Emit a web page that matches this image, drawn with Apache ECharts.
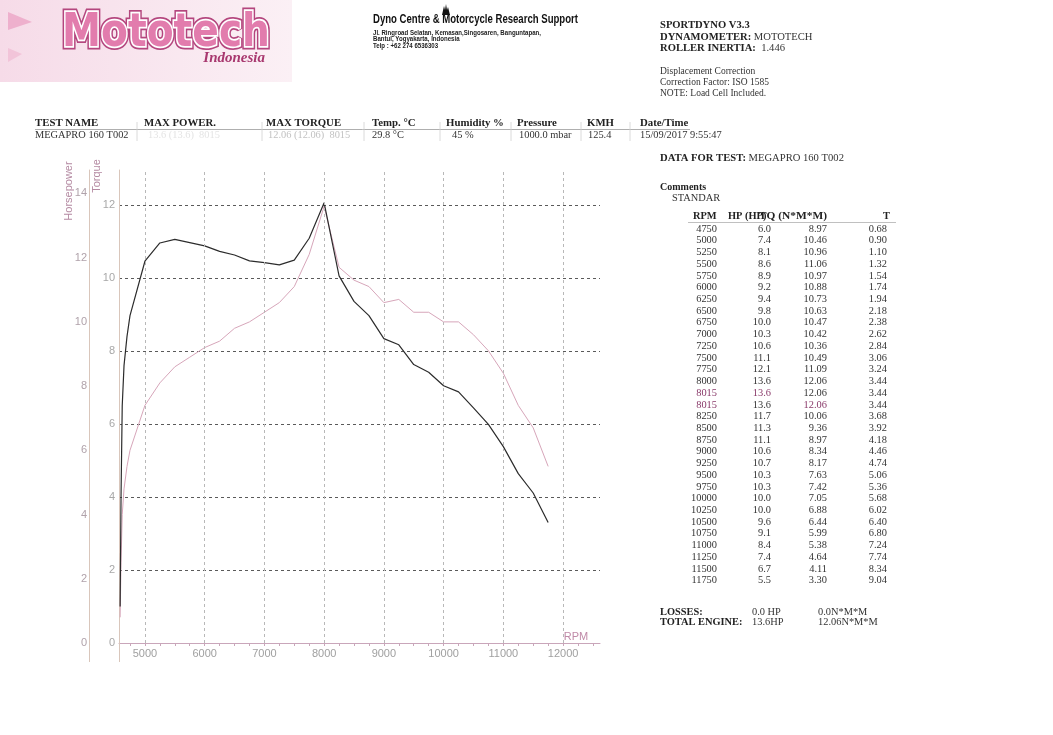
<!DOCTYPE html>
<html><head><meta charset="utf-8">
<script src="https://cdn.jsdelivr.net/npm/echarts@6/dist/echarts.min.js"></script>
<style>html,body{margin:0;padding:0;background:#fff}#c{width:1053px;height:735px}</style>
</head><body><div id="c"></div>
<script>
// ---------- DATA ----------
const curveRpm = [4585,4600,4620,4650,4700,4750,5000,5250,5500,5750,6000,6250,6500,6750,7000,7250,7500,7750,8000,8015,8250,8500,8750,9000,9250,9500,9750,10000,10250,10500,10750,11000,11250,11500,11750];
const torqueCurve = [1.0,4.0,6.5,7.6,8.4,8.97,10.46,10.96,11.06,10.97,10.88,10.73,10.63,10.47,10.42,10.36,10.49,11.09,12.06,12.06,10.06,9.36,8.97,8.34,8.17,7.63,7.42,7.05,6.88,6.44,5.99,5.38,4.64,4.11,3.30];
const powerCurve  = [0.8,2.5,4.0,4.8,5.5,6.0,7.4,8.1,8.6,8.9,9.2,9.4,9.8,10.0,10.3,10.6,11.1,12.1,13.6,13.6,11.7,11.3,11.1,10.6,10.7,10.3,10.3,10.0,10.0,9.6,9.1,8.4,7.4,6.7,5.5];
const rpmTicks = [5000,6000,7000,8000,9000,10000,11000,12000];
const rpmMinorTicks = [4750,5000,5250,5500,5750,6000,6250,6500,6750,7000,7250,7500,7750,8000,8250,8500,8750,9000,9250,9500,9750,10000,10250,10500,10750,11000,11250,11500,11750,12000,12250,12500];

const tableRpm = [4750,5000,5250,5500,5750,6000,6250,6500,6750,7000,7250,7500,7750,8000,8015,8015,8250,8500,8750,9000,9250,9500,9750,10000,10250,10500,10750,11000,11250,11500,11750];
const tableHp  = [6.0,7.4,8.1,8.6,8.9,9.2,9.4,9.8,10.0,10.3,10.6,11.1,12.1,13.6,13.6,13.6,11.7,11.3,11.1,10.6,10.7,10.3,10.3,10.0,10.0,9.6,9.1,8.4,7.4,6.7,5.5];
const tableTq  = [8.97,10.46,10.96,11.06,10.97,10.88,10.73,10.63,10.47,10.42,10.36,10.49,11.09,12.06,12.06,12.06,10.06,9.36,8.97,8.34,8.17,7.63,7.42,7.05,6.88,6.44,5.99,5.38,4.64,4.11,3.30];
const tableT   = [0.68,0.90,1.10,1.32,1.54,1.74,1.94,2.18,2.38,2.62,2.84,3.06,3.24,3.44,3.44,3.44,3.68,3.92,4.18,4.46,4.74,5.06,5.36,5.68,6.02,6.40,6.80,7.24,7.74,8.34,9.04];

const headerCols = ['TEST NAME','MAX POWER.','MAX TORQUE','Temp. °C','Humidity %','Pressure','KMH','Date/Time'];
const headerVals = ['MEGAPRO 160 T002','13.6 (13.6)  8015','12.06 (12.06)  8015','29.8 °C','45 %','1000.0 mbar','125.4','15/09/2017 9:55:47'];

// ---------- HELPERS ----------
const SERIF = '"Liberation Serif","Times New Roman",serif';
const SANS = '"Liberation Sans",Arial,sans-serif';
const mctx = document.createElement('canvas').getContext('2d');
function measure(t, f){ mctx.font = f; return mctx.measureText(t).width; }
function T(x, y, text, font, fill, align, extra){
  const el = {type:'text', x:x, y:y, silent:true, z:10,
    style:{text:text, font:font, fill:fill||'#222', textAlign:align||'left', textVerticalAlign:'middle'}};
  if (extra) Object.assign(el, extra);
  return el;
}
function L(x1,y1,x2,y2,color,w,dash){
  return {type:'line', silent:true, z:5, shape:{x1,y1,x2,y2}, style:{stroke:color, lineWidth:w||1, lineDash:dash||null}};
}

const g = [];
// logo band
g.push({type:'rect', silent:true, z:1, shape:{x:0,y:0,width:292,height:82},
  style:{fill:new echarts.graphic.LinearGradient(0,0,1,0,[{offset:0,color:'#f6dbe8'},{offset:1,color:'#fbf0f5'}])}});
g.push({type:'polygon', silent:true, z:2, shape:{points:[[8,12],[32,22],[8,30]]}, style:{fill:'#eeb0cd'}});
g.push({type:'polygon', silent:true, z:2, shape:{points:[[8,48],[22,54],[8,62]]}, style:{fill:'#f2c4d9'}});
const logoFont = 'bold 46px "DejaVu Sans"';
const logoSx = 208 / measure('Mototech', logoFont);
[['#b4467e',7],['#ffffff',3.5]].forEach(function(s){
  g.push({type:'text', silent:true, z:3, x:62, y:34, scaleX:logoSx,
    style:{text:'Mototech', font:logoFont, fill:s[0], stroke:s[0], lineWidth:s[1], textAlign:'left', textVerticalAlign:'middle'}});
});
g.push({type:'text', silent:true, z:4, x:62, y:34, scaleX:logoSx,
  style:{text:'Mototech', font:logoFont, fill:'#e27cad', textAlign:'left', textVerticalAlign:'middle'}});
g.push(T(265, 58, 'Indonesia', 'italic bold 15px ' + SERIF, '#a8386f', 'right'));

// center header
const dynoFont = 'bold 12px "Liberation Sans Narrow","Liberation Sans",sans-serif';
const dynoTxt = 'Dyno Centre & Motorcycle Research Support';
g.push(T(373, 20, dynoTxt, dynoFont, '#111', 'left', {scaleX: 205 / measure(dynoTxt, dynoFont)}));
g.push({type:'polygon', silent:true, z:6, shape:{points:[[442,15],[444,6],[445,10],[446,4],[447,10],[448,7],[450,15]]}, style:{fill:'#111'}});
const addrFont = 'bold 6.4px ' + SANS;
const addr = ['Jl. Ringroad Selatan, Kemasan,Singosaren, Banguntapan,','Bantul, Yogyakarta, Indonesia','Telp : +62 274 6536303'];
const addrSx = 168 / measure(addr[0], addrFont);
addr.forEach(function(a,i){ g.push(T(373, 33 + i*6.6, a, addrFont, '#222', 'left', {scaleX: addrSx})); });

// right header
function R(x,y,text,size){ const s = size||10.6; return {type:'text', x:x, y:y, silent:true, z:10,
  style:{text:text, font:s+'px ' + SERIF, fill:'#333', textVerticalAlign:'middle',
    rich:{b:{fontWeight:'bold', fontFamily:'"Liberation Serif"', fontSize:s, fill:'#222'}, n:{fontFamily:'"Liberation Serif"', fontSize:s, fill:'#333'}}}}; }
g.push(R(660, 25, '{b|SPORTDYNO V3.3}'));
g.push(R(660, 37, '{b|DYNAMOMETER:} {n|MOTOTECH}'));
g.push(R(660, 48, '{b|ROLLER INERTIA:}  {n|1.446}'));
g.push(T(660, 71, 'Displacement Correction', '9.5px ' + SERIF, '#333'));
g.push(T(660, 82, 'Correction Factor: ISO 1585', '9.5px ' + SERIF, '#333'));
g.push(T(660, 93, 'NOTE: Load Cell Included.', '9.5px ' + SERIF, '#333'));

// test row
const colX = [35,144,266,372,446,517,587,640];
const valX = [35,148,268,372,452,519,588,640];
const valColors = ['#333','#e4e4e4','#c2c2c2','#333','#333','#333','#333','#333'];
headerCols.forEach(function(h,i){ g.push(T(colX[i], 123, h, 'bold 10.8px ' + SERIF, '#222')); });
headerVals.forEach(function(v,i){ g.push(T(valX[i], 135, v, '10.4px ' + SERIF, valColors[i])); });
g.push(L(35,129.5,690,129.5,'#9a9a9a',0.8));
[137,262,364,440,511,581,630].forEach(function(x){ g.push(L(x,122,x,141,'#d0d0d0',0.8)); });

// data panel
g.push(R(660, 158, '{b|DATA FOR TEST:} {n|MEGAPRO 160 T002}'));
g.push(T(660, 187, 'Comments', 'bold 10px ' + SERIF, '#222'));
g.push(T(672, 198, 'STANDAR', '10.4px ' + SERIF, '#333'));
g.push(T(693, 216, 'RPM', 'bold 10.4px ' + SERIF, '#222'));
g.push(T(728, 216, 'HP (HP)', 'bold 10.4px ' + SERIF, '#222'));
const tqFont = 'bold 10.4px ' + SERIF;
g.push(T(759, 216, 'TQ (N*M*M)', tqFont, '#222', 'left', {scaleX: 68 / measure('TQ (N*M*M)', tqFont)}));
g.push(T(890, 216, 'T', 'bold 10.4px ' + SERIF, '#222', 'right'));
g.push(L(688,222.5,896,222.5,'#b0b0b0',0.8));
const rowH = 11.72;
tableRpm.forEach(function(r,i){
  const y = 229 + i*rowH;
  const f = '10.4px ' + SERIF;
  g.push(T(717, y, String(r), f, (i===14||i===15)?'#8a3a6a':'#333', 'right'));
  g.push(T(771, y, tableHp[i].toFixed(1), f, i===14?'#8a3a6a':'#333', 'right'));
  g.push(T(827, y, tableTq[i].toFixed(2), f, i===15?'#8a3a6a':'#333', 'right'));
  g.push(T(887, y, tableT[i].toFixed(2), f, '#333', 'right'));
});
g.push(T(660, 612, 'LOSSES:', 'bold 10.4px ' + SERIF, '#222'));
g.push(T(752, 612, '0.0 HP', '10.4px ' + SERIF, '#333'));
g.push(T(818, 612, '0.0N*M*M', '10.4px ' + SERIF, '#333'));
g.push(T(660, 622, 'TOTAL ENGINE:', 'bold 10.4px ' + SERIF, '#222'));
g.push(T(752, 622, '13.6HP', '10.4px ' + SERIF, '#333'));
g.push(T(818, 622, '12.06N*M*M', '10.4px ' + SERIF, '#333'));

// chart axis names & extras
g.push(T(69, 191, 'Horsepower', '11px ' + SANS, '#b48aa2', 'center', {rotation: Math.PI/2}));
g.push(T(97, 176, 'Torque', '11px ' + SANS, '#b48aa2', 'center', {rotation: Math.PI/2}));
g.push(T(576, 637, 'RPM', '11px ' + SANS, '#c08aa8', 'center'));
g.push(L(89.5,643,89.5,662,'#d9c6bb',1));
g.push(L(119.5,643,119.5,662,'#d9c6bb',1));

const chart = echarts.init(document.getElementById('c'), null, {renderer:'canvas'});
const fmt = function(v){ return (Math.abs(v % 2) < 1e-9) ? String(v) : ''; };
chart.setOption({
  animation:false,
  backgroundColor:'#ffffff',
  grid:{left:119, top:170, width:481, height:473},
  xAxis:{type:'value', min:4566, max:12618,
    axisLine:{show:true, lineStyle:{color:'#c9a6ba', width:1}},
    axisTick:{show:true, customValues:rpmMinorTicks, length:3, inside:false, lineStyle:{color:'#c9a6ba'}},
    axisLabel:{show:true, customValues:rpmTicks, color:'#a0a0a0', fontSize:11, fontFamily:'Liberation Sans', margin:5,
      formatter:function(v){ return String(v); }},
    splitLine:{show:false}},
  yAxis:[
    {type:'value', min:0, max:12.96, interval:2, position:'left',
      axisLine:{show:true, lineStyle:{color:'#d9c6bb'}}, axisTick:{show:false},
      axisLabel:{color:'#a8a8a8', fontSize:11, fontFamily:'Liberation Sans', margin:4, formatter:fmt},
      splitLine:{show:true, showMinLine:false, showMaxLine:false, lineStyle:{color:'#5a5a5a', type:[3,3], width:1}}},
    {type:'value', min:0, max:14.73, interval:2, position:'left', offset:30,
      axisLine:{show:true, lineStyle:{color:'#d9c6bb'}}, axisTick:{show:false},
      axisLabel:{color:'#b0a2aa', fontSize:11, fontFamily:'Liberation Sans', margin:2, formatter:fmt},
      splitLine:{show:false}}
  ],
  series:[
    {type:'line', yAxisIndex:0, showSymbol:false, symbol:'none', z:4,
      data: curveRpm.map(function(r,i){ return [r, torqueCurve[i]]; }),
      lineStyle:{color:'#2c2c2c', width:1.2},
      markLine:{silent:true, symbol:['none','none'], label:{show:false}, animation:false,
        lineStyle:{color:'#b8b8b8', type:[3,3], width:1},
        data: rpmTicks.map(function(v){ return {xAxis:v}; })}},
    {type:'line', yAxisIndex:1, showSymbol:false, symbol:'none', z:3,
      data: curveRpm.map(function(r,i){ return [r, powerCurve[i]]; }),
      lineStyle:{color:'#d7a6ba', width:1}}
  ],
  graphic: g
});
</script></body></html>
